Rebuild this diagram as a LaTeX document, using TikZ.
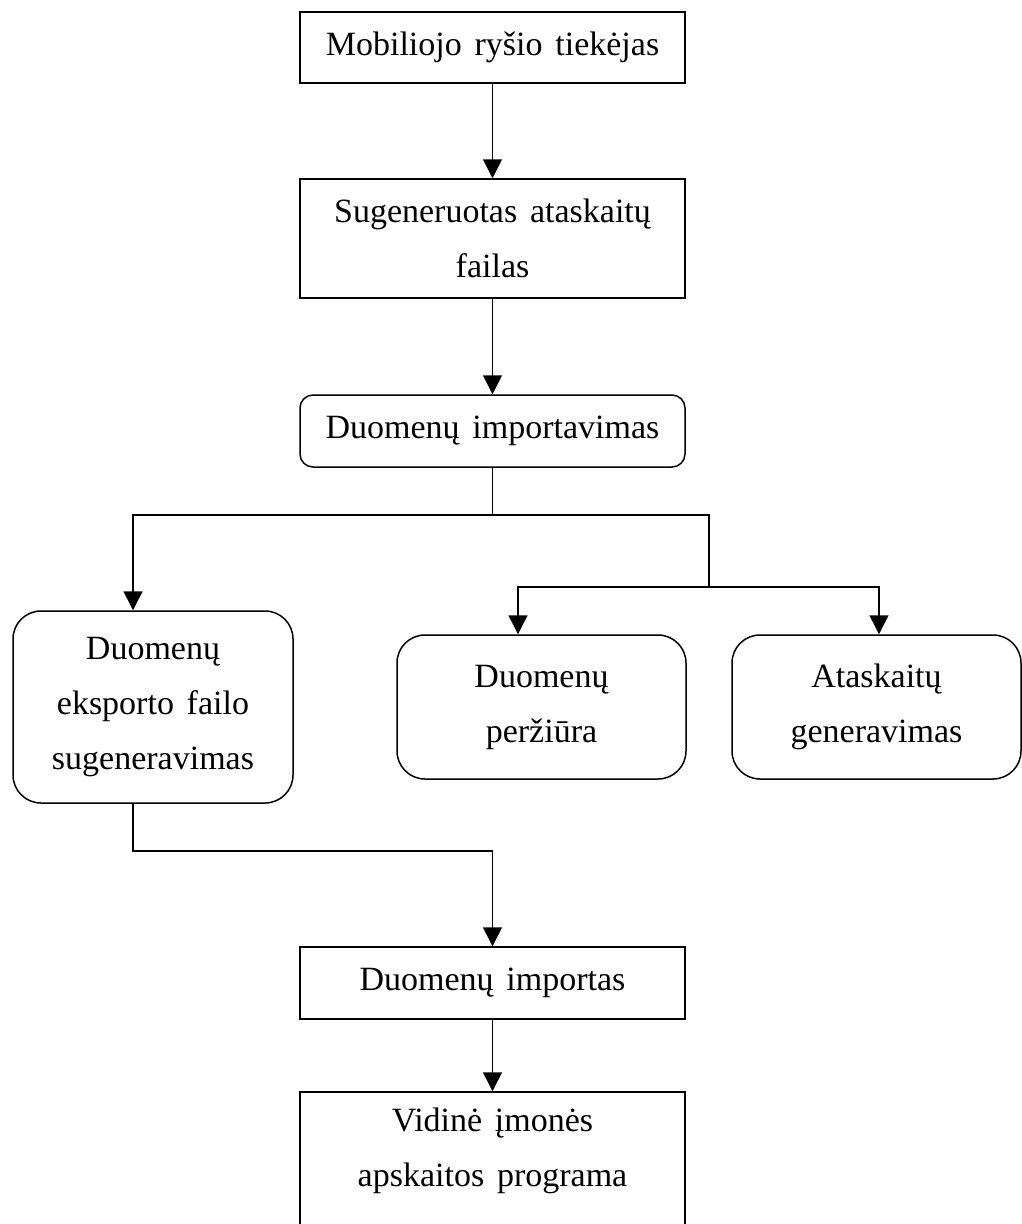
\documentclass[tikz,border=0pt]{standalone}
\usepackage{fontspec}
\setmainfont{Liberation Serif}[WordSpace=1.5]
\usetikzlibrary{arrows.meta}
\begin{document}
\begin{tikzpicture}[x=1pt,y=-1pt,
  every node/.style={font=\fontsize{34}{55}\selectfont, align=center, inner sep=0pt},
  box/.style={draw, line width=1.5pt, line join=miter, minimum width=385pt, minimum height=#1},
  rbox/.style={draw, line width=1.5pt, rounded corners=#1},
  link/.style={line width=1.5pt},
  arr/.style={link, -{Triangle[width=19pt,length=19pt]}}
]
\useasboundingbox (0,0) rectangle (1022,1224);
\clip (0,0) rectangle (1022,1224);

% main column
\node[box=71pt]  (prov)   at (492.5,47.5)  {Mobiliojo ryšio tiekėjas};
\node[box=119pt] (file)   at (492.5,238.5) {Sugeneruotas ataskaitų\\failas};
\node[box=72pt, rounded corners=13pt] (import) at (492.5,431) {Duomenų importavimas};

% three branches
\node[rbox=28pt, minimum width=280pt, minimum height=192pt] (export) at (153,707)
  {Duomenų\\eksporto failo\\sugeneravimas};
\node[rbox=28pt, minimum width=289pt, minimum height=144pt] (view) at (541.5,707)
  {Duomenų\\peržiūra};
\node[rbox=28pt, minimum width=289pt, minimum height=144pt] (report) at (876.5,707)
  {Ataskaitų\\generavimas};

% lower column; the last box runs on below the page edge
\node[box=72pt]  (imp2) at (492.5,983) {Duomenų importas};
\node[box=166pt] (acc)  at (492.5,1175)
  {Vidinė įmonės\\apskaitos programa\\\mbox{}};

% branching points
\coordinate (jl) at (133,515);
\coordinate (jm) at (492.5,515);
\coordinate (jr) at (709,515);
\coordinate (jr2) at (709,587);
\coordinate (k5) at (518,587);
\coordinate (k6) at (879,587);
\coordinate (m1) at (133,851);

% connectors
\draw[arr] (prov) -- (file);
\draw[arr] (file) -- (import);
\draw[arr] (import.south) |- (jl) -- (jl |- export.north);
\draw[link] (jm) -- (jr) -- (jr2);
\draw[arr] (jr2) -- (k5) -- (k5 |- view.north);
\draw[arr] (jr2) -- (k6) -- (k6 |- report.north);
\draw[arr] (export.south -| m1) -- (m1) -| (imp2.north);
\draw[arr] (imp2) -- (acc.north);
\end{tikzpicture}
\end{document}
